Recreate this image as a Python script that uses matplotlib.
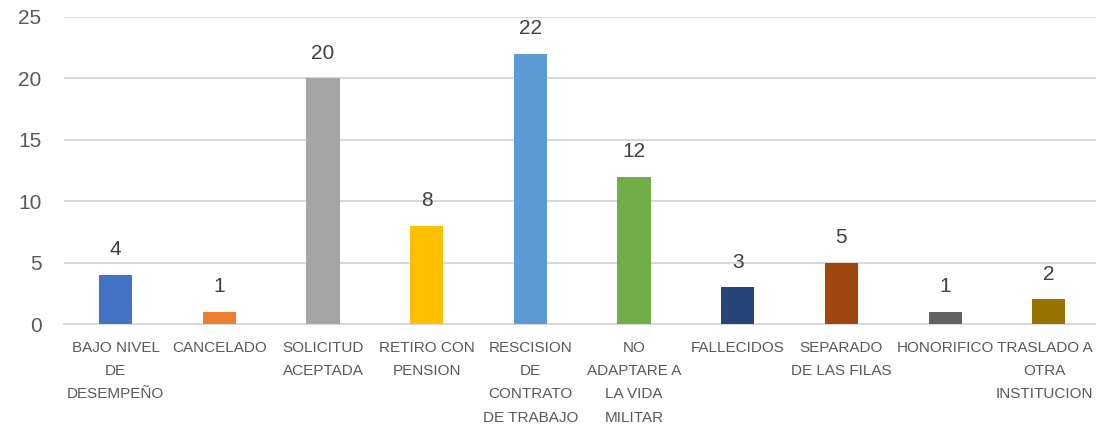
import matplotlib
matplotlib.use("Agg")
import matplotlib.pyplot as plt
from matplotlib.transforms import ScaledTranslation

categories = ["BAJO NIVEL\nDE\nDESEMPEÑO", "CANCELADO", "SOLICITUD\nACEPTADA",
              "RETIRO CON\nPENSION", "RESCISION\nDE\nCONTRATO\nDE TRABAJO",
              "NO\nADAPTARE A\nLA VIDA\nMILITAR", "FALLECIDOS",
              "SEPARADO\nDE LAS FILAS", "HONORIFICO", "TRASLADO A\nOTRA\nINSTITUCION"]
values = [4, 1, 20, 8, 22, 12, 3, 5, 1, 2]
colors = ["#4472C4", "#ED7D31", "#A5A5A5", "#FFC000", "#5B9BD5",
          "#70AD47", "#264478", "#9E480E", "#636363", "#997300"]
yticks = [0, 5, 10, 15, 20, 25]

plt.rcParams["font.family"] = ["Liberation Sans", "DejaVu Sans"]
txt = "#595959"
grid = "#D9D9D9"

fig = plt.figure(figsize=(10.96, 4.24), dpi=100)
ax = fig.add_axes([63.7 / 1096, 100 / 424, 1037 / 1096, 307 / 424])

x = range(len(values))
ax.bar(x, values, width=0.32, color=colors, zorder=3)
for xi, v in zip(x, values):
    ax.annotate(str(v), (xi, v), xytext=(0, 18), textcoords="offset points",
                ha="center", va="center", fontsize=15, color="#404040")

ax.set_xlim(-0.5, len(values) - 0.5)
ax.set_ylim(0, 25)
ax.set_yticks(yticks)
ax.set_xticks(list(x))
ax.set_xticklabels(categories, fontsize=11, color=txt, linespacing=1.85)
ax.tick_params(axis="y", length=0, pad=16, labelsize=15, labelcolor=txt)
ax.tick_params(axis="x", length=0, pad=12)
ax.grid(axis="y", color=grid, lw=1.5, zorder=0)
for s in ("left", "right", "top"):
    ax.spines[s].set_visible(False)
ax.spines["bottom"].set_color(grid)
ax.spines["bottom"].set_linewidth(1.5)

# keep the last wrapped label inside the figure edge
last = ax.get_xticklabels()[-1]
last.set_transform(last.get_transform() + ScaledTranslation(-4 / 100, 0, fig.dpi_scale_trans))

fig.savefig("out.png", dpi=100, facecolor="w")
